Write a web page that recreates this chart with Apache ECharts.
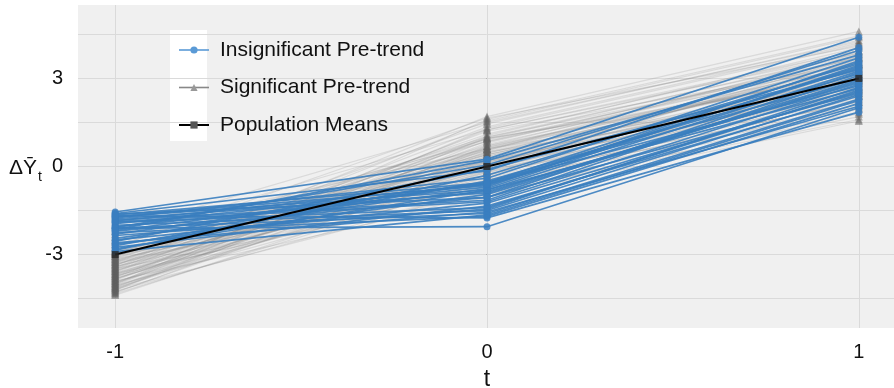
<!DOCTYPE html>
<html><head><meta charset="utf-8">
<script src="https://cdn.jsdelivr.net/npm/echarts@6/dist/echarts.min.js"></script>
<style>html,body{margin:0;padding:0;background:#fff}#c{width:894px;height:388px}</style>
</head><body><div id="c"></div>
<script>
// ---- data ----
const times = [-1, 0, 1];
const yTickValues = [-3, 0, 3];
const yGridValues = [-4.5, -3, -1.5, 0, 1.5, 3, 4.5];
const populationMeans = [-3, 0, 3];

// each row: values at t = -1, 0, 1
const insignificantLines = [
  [-1.55, 0.25, 4.40], [-1.60, -0.15, 4.05], [-1.65, -0.55, 3.55], [-1.70, -0.65, 3.40],
  [-1.72, -0.80, 3.25], [-1.78, -0.90, 2.95], [-1.82, -1.15, 3.10], [-1.85, -0.60, 2.75],
  [-1.90, -1.40, 2.60], [-1.95, -0.70, 3.60], [-2.00, -1.50, 2.45], [-2.05, -0.85, 2.85],
  [-2.10, -1.60, 2.30], [-2.15, 0.20, 3.80], [-2.20, -1.05, 3.20], [-2.25, -1.70, 2.15],
  [-2.30, -0.55, 3.00], [-2.35, -1.45, 2.70], [-2.10, -2.05, 2.00], [-2.45, -0.75, 3.45],
  [-2.50, -1.25, 2.55], [-2.55, -0.10, 3.30], [-2.60, -1.55, 2.05], [-2.65, -0.95, 2.90],
  [-2.70, -0.50, 3.15], [-2.75, -1.35, 2.40], [-2.80, -0.80, 2.65], [-2.85, -0.30, 3.50],
  [-2.90, -1.65, 2.25], [-1.62, -1.05, 2.50], [-1.75, -0.40, 3.70], [-1.88, -1.20, 2.80],
  [-2.08, 0.05, 3.95], [-1.68, -1.75, 1.85], [-2.18, -0.60, 3.35]
];

const significantLines = [
  [-2.85, 0.20, 3.10], [-2.90, -0.30, 2.60], [-2.95, 0.55, 3.40], [-3.00, -0.10, 2.90],
  [-3.05, 0.85, 3.70], [-3.10, 0.10, 2.40], [-3.15, -0.45, 2.20], [-3.20, 0.40, 3.05],
  [-3.25, 1.10, 3.95], [-3.30, -0.20, 2.75], [-3.35, 0.65, 3.30], [-3.40, -0.60, 1.95],
  [-3.45, 0.30, 2.85], [-3.50, 1.35, 4.20], [-3.55, -0.05, 3.15], [-3.60, 0.75, 3.55],
  [-3.65, -0.85, 1.70], [-3.70, 0.15, 2.50], [-3.75, 0.95, 3.85], [-3.80, -0.35, 2.35],
  [-3.85, 0.50, 3.25], [-3.90, -1.05, 1.55], [-3.95, 0.25, 2.95], [-4.00, 1.60, 4.45],
  [-4.05, -0.55, 2.10], [-4.10, 0.60, 3.45], [-4.15, -0.15, 2.65], [-4.20, 0.90, 3.60],
  [-4.25, -0.75, 1.85], [-4.30, 0.35, 3.00], [-4.38, -0.25, 2.45], [-2.88, 1.00, 3.80],
  [-2.92, 0.45, 3.35], [-3.02, -0.70, 2.05], [-3.08, 1.45, 4.30], [-3.12, 0.70, 3.20],
  [-3.18, -0.15, 2.55], [-3.22, 0.05, 3.65], [-3.28, 0.95, 3.10], [-3.32, -0.40, 2.30],
  [-3.38, 1.70, 4.60], [-3.42, 0.20, 2.70], [-3.48, -0.95, 1.80], [-3.52, 0.55, 3.90],
  [-3.58, 1.20, 3.50], [-3.62, -0.30, 2.80], [-3.68, 0.40, 3.35], [-3.72, -0.65, 2.25],
  [-3.78, 1.05, 4.05], [-3.82, 0.00, 2.60], [-3.88, 0.80, 3.75], [-3.92, -0.50, 2.00],
  [-3.98, 0.15, 3.05], [-4.02, 1.30, 4.15], [-4.08, -0.20, 2.50], [-4.12, 0.45, 3.30],
  [-4.18, -0.90, 1.60], [-4.22, 0.70, 3.70], [-4.28, 0.10, 2.90], [-4.33, -0.45, 2.20],
  [-2.40, 1.25, 3.95], [-2.55, 0.85, 3.50], [-2.20, 1.50, 4.25], [-2.65, 0.40, 2.95],
  [-2.75, 1.65, 4.10], [-2.50, 0.15, 2.70], [-2.30, 0.60, 3.25], [-3.45, 1.55, 4.40],
  [-3.65, 0.50, 2.40], [-3.05, 0.25, 3.50], [-3.85, 1.25, 3.85], [-4.15, 0.20, 2.75],
  [-3.25, -0.55, 2.45], [-3.55, 0.35, 3.15], [-3.95, 0.65, 3.45], [-2.98, 0.95, 3.00],
  [-3.35, 0.00, 3.75], [-3.75, -0.10, 2.85], [-4.05, 1.00, 3.55], [-3.15, 0.60, 2.65]
];

const NAME_INS = 'Insignificant Pre-trend';
const NAME_SIG = 'Significant Pre-trend';
const NAME_POP = 'Population Means';

// ---- build ----
const FONT = "'Liberation Sans', Arial, sans-serif";
const toPts = vals => times.map((t, i) => [t, vals[i]]);

const series = [];
series.push({
  type: 'line', data: [], silent: true, z: 1,
  markLine: {
    z: 1, silent: true, symbol: ['none', 'none'], label: { show: false },
    lineStyle: { color: '#dadada', width: 1, type: 'solid' },
    data: times.map(t => ({ xAxis: t })).concat(yGridValues.map(v => ({ yAxis: v })))
  }
});
significantLines.forEach(v => series.push({
  type: 'line', name: NAME_SIG, data: toPts(v), z: 2,
  symbol: 'triangle', symbolSize: 8, showSymbol: true,
  lineStyle: { color: '#808080', width: 1.2, opacity: 0.2 },
  itemStyle: { color: '#606060', borderWidth: 0, opacity: 0.5 },
  emphasis: { disabled: true }
}));
insignificantLines.forEach(v => series.push({
  type: 'line', name: NAME_INS, data: toPts(v), z: 3,
  symbol: 'circle', symbolSize: 7, showSymbol: true,
  lineStyle: { color: '#3a7ebf', width: 1.7, opacity: 0.9 },
  itemStyle: { color: '#3a7ebf', borderWidth: 0, opacity: 0.85 },
  emphasis: { disabled: true }
}));
series.push({
  type: 'line', name: NAME_POP, data: toPts(populationMeans), z: 4,
  symbol: 'rect', symbolSize: 7, showSymbol: true,
  lineStyle: { color: '#000', width: 2 },
  itemStyle: { color: '#2a2a2a', borderWidth: 0, opacity: 0.85 },
  emphasis: { disabled: true }
});

const chart = echarts.init(document.getElementById('c'), null, { renderer: 'canvas' });
chart.setOption({
  animation: false,
  backgroundColor: '#ffffff',
  textStyle: { fontFamily: FONT },
  grid: { left: 78, top: 5, width: 818, height: 323, show: true, backgroundColor: '#f0f0f0', borderWidth: 0,
          containLabel: false, outerBoundsMode: 'none' },
  xAxis: {
    type: 'value', min: -1.1, max: 1.1,
    name: 't', nameLocation: 'middle', nameGap: 40,
    nameTextStyle: { color: '#111', fontSize: 23, fontFamily: FONT },
    axisLine: { show: false },
    axisTick: { show: true, length: 5, customValues: times, lineStyle: { color: '#444', width: 1 } },
    axisLabel: { customValues: times, margin: 14, color: '#111', fontSize: 20, fontFamily: FONT },
    splitLine: { show: false }
  },
  yAxis: {
    type: 'value', min: -5.5, max: 5.5,
    axisLine: { show: false },
    axisTick: { show: true, length: 5, customValues: yTickValues, lineStyle: { color: '#444', width: 1 } },
    axisLabel: { customValues: yTickValues, margin: 15, color: '#111', fontSize: 20, fontFamily: FONT },
    splitLine: { show: false }
  },
  legend: {
    z: 10,
    left: 173, top: 33, orient: 'vertical',
    itemWidth: 30, itemHeight: 9, itemGap: 13.5,
    textStyle: { fontSize: 21, color: '#111', fontFamily: FONT, lineHeight: 24, padding: [0, 0, 0, 6] },
    data: [
      { name: NAME_INS, itemStyle: { color: '#5a9ad6', opacity: 1 }, lineStyle: { color: '#5a9ad6', opacity: 1, width: 1.6 } },
      { name: NAME_SIG, itemStyle: { color: '#999', opacity: 1 }, lineStyle: { color: '#888', opacity: 1, width: 1.6 } },
      { name: NAME_POP, itemStyle: { color: '#555', opacity: 1 }, lineStyle: { color: '#000', opacity: 1, width: 2 } }
    ],
    selectedMode: false
  },
  graphic: [
    { type: 'rect', left: 170, top: 30, shape: { width: 37, height: 111 }, style: { fill: '#ffffff' }, z: 1, silent: true },
    { type: 'text', left: 9, top: 158, style: { text: 'ΔȲ', font: "21px 'Liberation Sans', Arial, sans-serif", fill: '#111' }, z: 5 },
    { type: 'text', left: 38, top: 170, style: { text: 't', font: "14px 'Liberation Sans', Arial, sans-serif", fill: '#111' }, z: 5 }
  ],
  series: series
});
</script>
</body></html>
